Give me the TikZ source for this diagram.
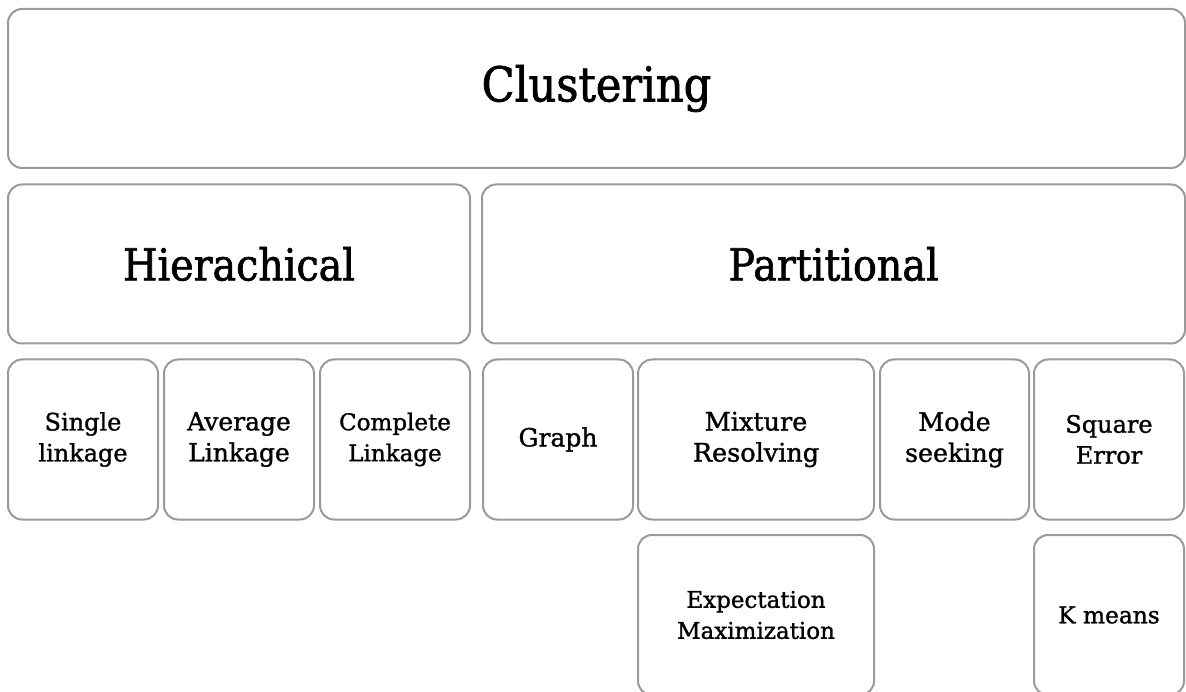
\documentclass[tikz,border=0pt]{standalone}
\usepackage{fontspec}
\setmainfont{DejaVu Serif}[FakeBold=1.2]
\newfontfamily\wideserif{DejaVu Serif}[FakeStretch=0.9,FakeBold=1.5]
\definecolor{boxgray}{HTML}{9A9A9A}
\newcommand{\fs}[2]{\fontsize{#1}{#2}\selectfont}
\begin{document}
\begin{tikzpicture}[x=1pt,y=-1pt,
  box/.style={draw=boxgray, line width=2pt, rounded corners=14pt, align=center, inner sep=0pt, fill=white},
  big/.style={font=\wideserif\fs{48}{56}},
  mid/.style={font=\wideserif\fs{44}{52}},
  small/.style={font=\fs{#1}{31}},
  small/.default=24]
\useasboundingbox (0,0) rectangle (1186,692);
\clip (0,0) rectangle (1186,692);
\fill[white] (0,0) rectangle (1186,692);
\node[box,big,minimum width=1177pt,minimum height=159pt] (clus) at (596.5,88.5) {Clustering};
\node[box,mid,minimum width=462pt,minimum height=159pt] (hier) at (239,264) {Hierachical};
\node[box,mid,minimum width=703pt,minimum height=159pt] (part) at (833.5,264) {Partitional};
\node[box,small=24,minimum width=150pt,minimum height=160pt] (single) at (83,439.5) {Single\\linkage};
\node[box,small=25,minimum width=150pt,minimum height=160pt] (avg) at (239,439.5) {Average\\Linkage};
\node[box,small=23,minimum width=150pt,minimum height=160pt] (comp) at (395,439.5) {Complete\\Linkage};
\node[box,small=25,minimum width=150pt,minimum height=160pt] (graph) at (558,439.5) {Graph};
\node[box,small=25.5,minimum width=236pt,minimum height=160pt] (mix) at (756,439.5) {Mixture\\Resolving};
\node[box,small=25.3,minimum width=149pt,minimum height=160pt] (mode) at (954.5,439.5) {Mode\\seeking};
\node[box,small=24,minimum width=150pt,minimum height=160pt] (sq) at (1109,439.5) {Square\\Error};
\node[box,small=23,minimum width=236pt,minimum height=160pt] (em) at (756,615) {Expectation\\Maximization};
\node[box,small=23.3,minimum width=150pt,minimum height=160pt] (km) at (1109,615) {K means};
\end{tikzpicture}
\end{document}
